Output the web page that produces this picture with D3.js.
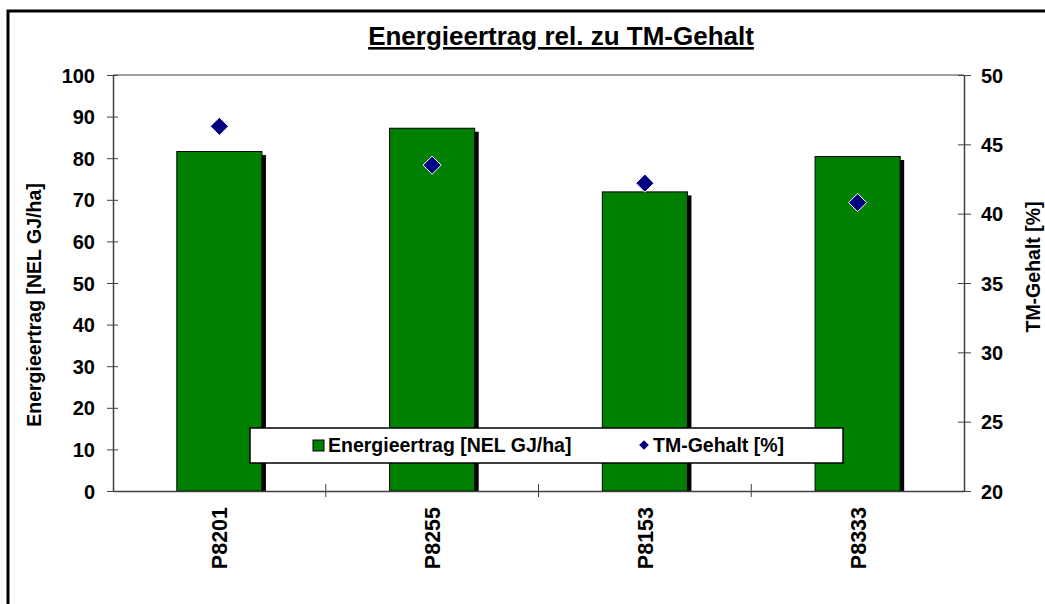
<!DOCTYPE html>
<html>
<head>
<meta charset="utf-8">
<script src="https://cdn.jsdelivr.net/npm/d3@7"></script>
<style>
body{margin:0;background:#fff;}
svg text{font-family:"Liberation Sans",Arial,sans-serif;font-weight:bold;fill:#000;}
</style>
</head>
<body>
<svg id="chart"></svg>
<script>
// Seitengroesse
var width = 1045;
var height = 604;
var plot = {left:113, right:964, top:75, bottom:491};

// Daten
var sorten = ["P8201","P8255","P8153","P8333"];
var energieertrag = [81.6, 87.2, 71.9, 80.4];   // NEL GJ/ha
var tmGehalt = [46.3, 43.5, 42.2, 40.8];        // %
var yTicksLinks = [0,10,20,30,40,50,60,70,80,90,100];
var yTicksRechts = [20,25,30,35,40,45,50];

var data = sorten.map(function(s,i){
	return {sorte:s, energie:energieertrag[i], tm:tmGehalt[i]};
});

var svg = d3.select("#chart")
	.attr("width", width)
	.attr("height", height);

// Rahmen
svg.append("rect")
	.attr("x",8).attr("y",11)
	.attr("width",1100).attr("height",700)
	.attr("fill","#fff")
	.attr("stroke","#000")
	.attr("stroke-width",3);

// Titel
svg.append("text")
	.attr("x",561).attr("y",45)
	.attr("text-anchor","middle")
	.style("font-size","26px")
	.style("text-decoration","underline")
	.text("Energieertrag rel. zu TM-Gehalt");

var xScale = d3.scaleBand()
	.domain(sorten)
	.range([plot.left, plot.right])
	.paddingInner(0.6)
	.paddingOuter(0.3);

var yScale = d3.scaleLinear().domain([0,100]).range([plot.bottom, plot.top]);
var y2Scale = d3.scaleLinear().domain([20,50]).range([plot.bottom, plot.top]);

// Plotflaeche oben
svg.append("line")
	.attr("x1",plot.left).attr("x2",plot.right)
	.attr("y1",plot.top).attr("y2",plot.top)
	.attr("stroke","#808080").attr("stroke-width",1.5);

// Balken mit Schatten
var bars = svg.append("g").attr("id","bars");
bars.selectAll("rect.shadow")
	.data(data)
	.enter()
	.append("rect")
	.attr("class","shadow")
	.attr("x", d => xScale(d.sorte)+4)
	.attr("y", d => yScale(d.energie)+3.5)
	.attr("width", xScale.bandwidth())
	.attr("height", d => plot.bottom - yScale(d.energie) - 3.5)
	.attr("fill","#000");
bars.selectAll("rect.bar")
	.data(data)
	.enter()
	.append("rect")
	.attr("class","bar")
	.attr("x", d => xScale(d.sorte))
	.attr("y", d => yScale(d.energie))
	.attr("width", xScale.bandwidth())
	.attr("height", d => plot.bottom - yScale(d.energie))
	.attr("fill","#008000")
	.attr("stroke","#000")
	.attr("stroke-width",1);

// linke Achse
var yAxis = d3.axisLeft(yScale).tickValues(yTicksLinks).tickSizeInner(6).tickSizeOuter(0).tickPadding(12);
var gy = svg.append("g")
	.attr("transform","translate("+plot.left+",0)")
	.call(yAxis);
gy.selectAll("line").attr("x2",-6).attr("x1",5);
gy.selectAll("text").style("font-size","20px").attr("dy","0.35em");

// rechte Achse
var y2Axis = d3.axisRight(y2Scale).tickValues(yTicksRechts).tickSizeInner(7).tickSizeOuter(0).tickPadding(10);
var gy2 = svg.append("g")
	.attr("transform","translate("+plot.right+",0)")
	.call(y2Axis);
gy2.selectAll("line").attr("x1",-6);
gy2.selectAll("text").style("font-size","20px").attr("dy","0.35em");

// x Achse
var gx = svg.append("g")
	.attr("transform","translate(0,"+plot.bottom+")")
	.call(d3.axisBottom(xScale).tickSize(0).tickFormat(""));
var grenzen = d3.range(1, sorten.length).map(i => plot.left + i*(plot.right-plot.left)/sorten.length);
svg.append("g").selectAll("line")
	.data(grenzen)
	.enter()
	.append("line")
	.attr("x1", d => d).attr("x2", d => d)
	.attr("y1", plot.bottom-7).attr("y2", plot.bottom+6)
	.attr("stroke","#404040");
svg.append("g").selectAll("text")
	.data(sorten)
	.enter()
	.append("text")
	.attr("text-anchor","end")
	.style("font-size","21.5px")
	.attr("transform", d => "translate("+(xScale(d)+xScale.bandwidth()/2+8)+","+(plot.bottom+16)+") rotate(-90)")
	.text(d => d);

[gy, gy2, gx].forEach(function(g){
	g.select(".domain").attr("stroke","#404040").attr("stroke-width",1.5);
	g.selectAll(".tick line").attr("stroke","#404040");
});

// TM Rauten
svg.append("g").selectAll("path")
	.data(data)
	.enter()
	.append("path")
	.attr("d", d3.symbol().type(d3.symbolDiamond2).size(210))
	.attr("transform", d => "translate("+(xScale(d.sorte)+xScale.bandwidth()/2)+","+y2Scale(d.tm)+")")
	.attr("fill","#000080")
	.attr("stroke","#fff")
	.attr("stroke-width",1);

// Achsentitel
svg.append("text")
	.attr("transform","translate(41,305) rotate(-90)")
	.attr("text-anchor","middle")
	.style("font-size","19.5px")
	.text("Energieertrag [NEL GJ/ha]");
svg.append("text")
	.attr("transform","translate(1040,267) rotate(-90)")
	.attr("text-anchor","middle")
	.style("font-size","19.5px")
	.text("TM-Gehalt [%]");

// Legende
var legende = svg.append("g");
legende.append("rect")
	.attr("x",250).attr("y",428)
	.attr("width",593).attr("height",35)
	.attr("fill","#fff")
	.attr("stroke","#000")
	.attr("stroke-width",1.5);
legende.append("rect")
	.attr("x",313).attr("y",440)
	.attr("width",11).attr("height",11)
	.attr("fill","#008000")
	.attr("stroke","#000");
legende.append("text")
	.attr("x",328).attr("y",452)
	.style("font-size","19.5px")
	.text("Energieertrag [NEL GJ/ha]");
legende.append("path")
	.attr("d", d3.symbol().type(d3.symbolDiamond2).size(60))
	.attr("transform","translate(644,445)")
	.attr("fill","#000080");
legende.append("text")
	.attr("x",653).attr("y",452)
	.style("font-size","19.5px")
	.text("TM-Gehalt [%]");
</script>
</body>
</html>
